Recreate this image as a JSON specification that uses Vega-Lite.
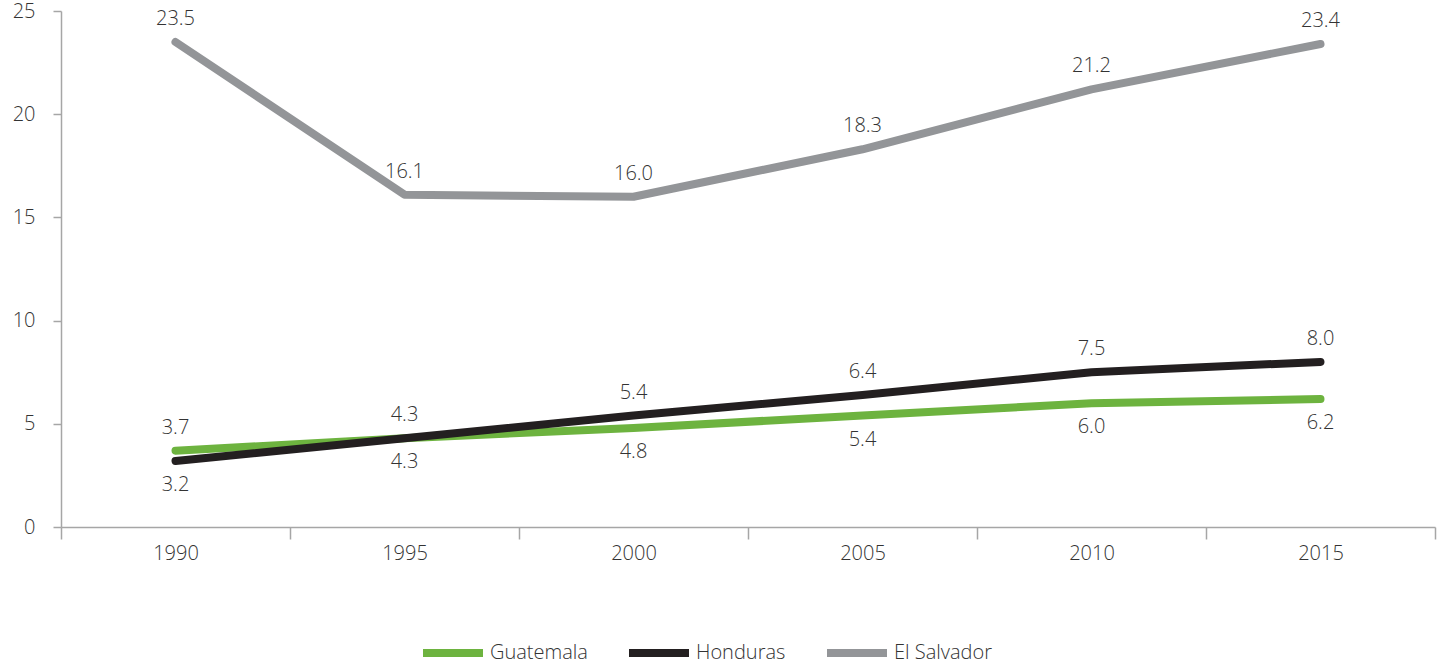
{
  "$schema": "https://vega.github.io/schema/vega-lite/v6.json",
  "width": 1374,
  "height": 516,
  "autosize": {"type": "none"},
  "padding": {"left": 61, "top": 11, "right": 9, "bottom": 135},
  "background": "white",
  "config": {
    "view": {"stroke": null},
    "font": "Open Sans",
    "text": {"font": "Open Sans"}
  },
  "data": {
    "values": [
      {"country": "Guatemala", "year": 1990, "value": 3.7},
      {"country": "Guatemala", "year": 1995, "value": 4.3},
      {"country": "Guatemala", "year": 2000, "value": 4.8},
      {"country": "Guatemala", "year": 2005, "value": 5.4},
      {"country": "Guatemala", "year": 2010, "value": 6.0},
      {"country": "Guatemala", "year": 2015, "value": 6.2},
      {"country": "Honduras", "year": 1990, "value": 3.2},
      {"country": "Honduras", "year": 1995, "value": 4.3},
      {"country": "Honduras", "year": 2000, "value": 5.4},
      {"country": "Honduras", "year": 2005, "value": 6.4},
      {"country": "Honduras", "year": 2010, "value": 7.5},
      {"country": "Honduras", "year": 2015, "value": 8.0},
      {"country": "El Salvador", "year": 1990, "value": 23.5},
      {"country": "El Salvador", "year": 1995, "value": 16.1},
      {"country": "El Salvador", "year": 2000, "value": 16.0},
      {"country": "El Salvador", "year": 2005, "value": 18.3},
      {"country": "El Salvador", "year": 2010, "value": 21.2},
      {"country": "El Salvador", "year": 2015, "value": 23.4}
    ]
  },
  "encoding": {
    "x": {
      "field": "year",
      "type": "quantitative",
      "scale": {"domain": [1987.5, 2017.5], "nice": false, "zero": false},
      "axis": {
        "title": null,
        "values": [1987.5, 1990, 1992.5, 1995, 1997.5, 2000, 2002.5, 2005, 2007.5, 2010, 2012.5, 2015, 2017.5],
        "labelExpr": "datum.value % 5 == 0 ? format(datum.value, 'd') : ''",
        "tickOpacity": {"condition": {"test": "datum.value % 5 == 0", "value": 0}, "value": 1},
        "grid": false,
        "domainColor": "#a6a6a6",
        "domainWidth": 1.5,
        "tickColor": "#a6a6a6",
        "tickWidth": 1.5,
        "tickSize": 12,
        "labelFont": "Open Sans",
        "labelFontSize": 20,
        "labelFontWeight": 300,
        "labelColor": "#333333",
        "labelPadding": 4,
        "labelFlush": false,
        "labelOverlap": false
      }
    },
    "y": {
      "field": "value",
      "type": "quantitative",
      "scale": {"domain": [0, 25], "nice": false},
      "axis": {
        "title": null,
        "values": [0, 5, 10, 15, 20, 25],
        "grid": false,
        "domainColor": "#a6a6a6",
        "domainWidth": 1.5,
        "tickColor": "#a6a6a6",
        "tickWidth": 1.5,
        "tickSize": 8,
        "labelFont": "Open Sans",
        "labelFontSize": 20,
        "labelFontWeight": 300,
        "labelColor": "#333333",
        "labelPadding": 18,
        "labelFlush": false
      }
    },
    "color": {
      "field": "country",
      "type": "nominal",
      "scale": {
        "domain": ["Guatemala", "Honduras", "El Salvador"],
        "range": ["#6db33f", "#231f20", "#939598"]
      },
      "legend": {
        "title": null,
        "orient": "none",
        "direction": "horizontal",
        "legendX": 358,
        "legendY": 608,
        "symbolType": "stroke",
        "symbolSize": 3600,
        "symbolStrokeWidth": 8,
        "labelFont": "Open Sans",
        "labelFontSize": 20,
        "labelFontWeight": 300,
        "labelColor": "#333333",
        "labelOffset": 3,
        "columnPadding": 25
      }
    }
  },
  "layer": [
    {
      "mark": {"type": "line", "strokeWidth": 8, "strokeCap": "round", "strokeJoin": "round"}
    },
    {
      "transform": [
        {"filter": "datum.country == 'El Salvador' || (datum.country == 'Honduras' && datum.year > 1990) || (datum.country == 'Guatemala' && datum.year == 1990)"}
      ],
      "mark": {"type": "text", "baseline": "alphabetic", "dy": -17, "fontSize": 20, "fontWeight": 300, "color": "#333333"},
      "encoding": {
        "text": {"field": "value", "type": "quantitative", "format": ".1f"},
        "color": {"value": "#333333"}
      }
    },
    {
      "transform": [
        {"filter": "(datum.country == 'Honduras' && datum.year == 1990) || (datum.country == 'Guatemala' && datum.year > 1990)"}
      ],
      "mark": {"type": "text", "baseline": "top", "dy": 14, "fontSize": 20, "fontWeight": 300, "color": "#333333"},
      "encoding": {
        "text": {"field": "value", "type": "quantitative", "format": ".1f"},
        "color": {"value": "#333333"}
      }
    }
  ]
}
